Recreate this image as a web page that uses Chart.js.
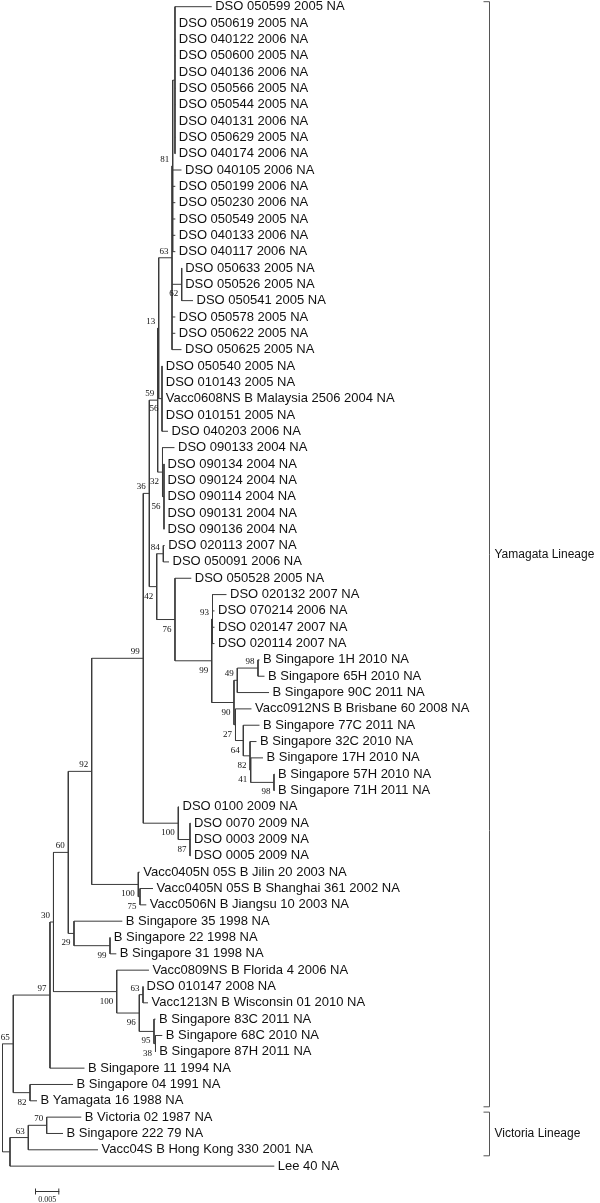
<!DOCTYPE html>
<html>
<head>
<meta charset="utf-8">
<script src="https://cdn.jsdelivr.net/npm/chart.js@4.4.1/dist/chart.umd.min.js"></script>
<style>
  html, body { margin: 0; padding: 0; background: #fff; }
  canvas { display: block; }
</style>
</head>
<body>
<canvas id="tree" width="600" height="1203"></canvas>
<script>
// leaves, top to bottom
const leafNames = [
  "DSO 050599 2005 NA", "DSO 050619 2005 NA", "DSO 040122 2006 NA", "DSO 050600 2005 NA",
  "DSO 040136 2006 NA", "DSO 050566 2005 NA", "DSO 050544 2005 NA", "DSO 040131 2006 NA",
  "DSO 050629 2005 NA", "DSO 040174 2006 NA", "DSO 040105 2006 NA", "DSO 050199 2006 NA",
  "DSO 050230 2006 NA", "DSO 050549 2005 NA", "DSO 040133 2006 NA", "DSO 040117 2006 NA",
  "DSO 050633 2005 NA", "DSO 050526 2005 NA", "DSO 050541 2005 NA", "DSO 050578 2005 NA",
  "DSO 050622 2005 NA", "DSO 050625 2005 NA", "DSO 050540 2005 NA", "DSO 010143 2005 NA",
  "Vacc0608NS B Malaysia 2506 2004 NA", "DSO 010151 2005 NA", "DSO 040203 2006 NA",
  "DSO 090133 2004 NA", "DSO 090134 2004 NA", "DSO 090124 2004 NA", "DSO 090114 2004 NA",
  "DSO 090131 2004 NA", "DSO 090136 2004 NA", "DSO 020113 2007 NA", "DSO 050091 2006 NA",
  "DSO 050528 2005 NA", "DSO 020132 2007 NA", "DSO 070214 2006 NA", "DSO 020147 2007 NA",
  "DSO 020114 2007 NA", "B Singapore 1H 2010 NA", "B Singapore 65H 2010 NA",
  "B Singapore 90C 2011 NA", "Vacc0912NS B Brisbane 60 2008 NA", "B Singapore 77C 2011 NA",
  "B Singapore 32C 2010 NA", "B Singapore 17H 2010 NA", "B Singapore 57H 2010 NA",
  "B Singapore 71H 2011 NA", "DSO 0100 2009 NA", "DSO 0070 2009 NA", "DSO 0003 2009 NA",
  "DSO 0005 2009 NA", "Vacc0405N 05S B Jilin 20 2003 NA", "Vacc0405N 05S B Shanghai 361 2002 NA",
  "Vacc0506N B Jiangsu 10 2003 NA", "B Singapore 35 1998 NA", "B Singapore 22 1998 NA",
  "B Singapore 31 1998 NA", "Vacc0809NS B Florida 4 2006 NA", "DSO 010147 2008 NA",
  "Vacc1213N B Wisconsin 01 2010 NA", "B Singapore 83C 2011 NA", "B Singapore 68C 2010 NA",
  "B Singapore 87H 2011 NA", "B Singapore 11 1994 NA", "B Singapore 04 1991 NA",
  "B Yamagata 16 1988 NA", "B Victoria 02 1987 NA", "B Singapore 222 79 NA",
  "Vacc04S B Hong Kong 330 2001 NA", "Lee 40 NA"
];
const leafParent = [
  "Q", "Q", "Q", "Q", "Q", "Q", "Q", "Q", "Q", "Q",
  "N81", "N81", "N81", "N81", "N81", "N81",
  "N62", "N62", "N62", "N63", "N63", "N63",
  "N56a", "N56a", "N56a", "N56a", "N56a",
  "N32", "N56b", "N56b", "N56b", "N56b", "N56b",
  "N84", "N84", "N76", "S93", "S93", "S93", "S93",
  "S98", "S98", "S49", "S27", "S64", "S82", "S41", "S98b", "S98b",
  "D100", "D87", "D87", "D87", "J100", "J75", "J75",
  "N29", "N99c", "N99c", "F100", "F63", "F63", "F95", "F38", "F38",
  "N97", "N82", "N82", "V70", "V70", "V63", "X"
];
// distance from root (substitutions per site)
const leafDepth = [
  0.04305, 0.03556, 0.03556, 0.03556, 0.03556, 0.03556, 0.03556, 0.03556, 0.03556, 0.03556,
  0.03683, 0.03556, 0.03556, 0.03556, 0.03556, 0.03556,
  0.03687, 0.03687, 0.03920, 0.03556, 0.03556, 0.03683,
  0.03288, 0.03288, 0.03288, 0.03288, 0.03405,
  0.03539, 0.03323, 0.03323, 0.03323, 0.03323, 0.03323,
  0.03337, 0.03426, 0.03885, 0.04609, 0.04362, 0.04362, 0.04362,
  0.05288, 0.05391, 0.05484, 0.05123, 0.05288, 0.05226, 0.05360, 0.05597, 0.05597,
  0.03632, 0.03868, 0.03868, 0.03868, 0.02823, 0.03097, 0.02959,
  0.02465, 0.02218, 0.02342, 0.03014, 0.02891, 0.02994, 0.03148, 0.03288, 0.03152,
  0.01687, 0.01451, 0.00710, 0.01621, 0.01245, 0.01965, 0.05593
];

// internal nodes
const nodeIds = [
  "R", "X", "V63", "V70", "N65", "N82", "N97", "N30", "N60", "N29", "N99c",
  "F100", "F96", "F63", "F95", "F38", "N92", "J100", "J75", "B99", "D100", "D87",
  "N36", "N59", "N13", "N63", "N81", "Q", "N62", "N56a", "N32", "N56b",
  "N42", "N84", "N76", "S99", "S93", "S90", "S49", "S98", "S27", "S64", "S82", "S41", "S98b"
];
const nodeParent = [
  null, "R", "X", "V63", "R", "N65", "N65", "N97", "N30", "N60", "N29",
  "N30", "F100", "F96", "F96", "F95", "N60", "N92", "J100", "N92", "B99", "D100",
  "B99", "N36", "N59", "N13", "N63", "N81", "N63", "N13", "N59", "N32",
  "N36", "N42", "N42", "N76", "S99", "S99", "S90", "S49", "S90", "S27", "S64", "S82", "S41"
];
const nodeDepth = [
  0, 0.00154, 0.00531, 0.00909, 0.00222, 0.00566, 0.00977, 0.01049, 0.01354, 0.01471, 0.02212,
  0.02350, 0.02815, 0.02891, 0.03117, 0.03148, 0.01835, 0.02794, 0.02829, 0.02897, 0.03617, 0.03858,
  0.03021, 0.03193, 0.03214, 0.03488, 0.03502, 0.03549, 0.03687, 0.03282, 0.03292, 0.03323,
  0.03173, 0.03309, 0.03549, 0.04305, 0.04321, 0.04763, 0.04831, 0.05257, 0.04794, 0.04955, 0.05093, 0.05107, 0.05586
];
const nodeSupport = [
  null, null, 63, 70, 65, 82, 97, 30, 60, 29, 99,
  100, 96, 63, 95, 38, 92, 100, 75, 99, 100, 87,
  36, 59, 13, 63, 81, null, 62, 56, 32, 56,
  42, 84, 76, 99, 93, 90, 49, 98, 27, 64, 82, 41, 98
];

const lineageNames = ["Yamagata Lineage", "Victoria Lineage"];
const lineageFirst = [0, 68];
const lineageLast = [67, 70];
const scaleBarValue = 0.005;

// build tree layout (y = leaf row, internal node = middle of first/last child)
const kids = {};
nodeIds.forEach((id) => (kids[id] = []));
leafNames.forEach((n, i) => kids[leafParent[i]].push({ leaf: i }));
nodeIds.forEach((id, i) => {
  if (nodeParent[i]) kids[nodeParent[i]].push({ node: id });
});
const depthOf = {};
nodeIds.forEach((id, i) => (depthOf[id] = nodeDepth[i]));
const nodeY = {};
const yOf = (c) => (c.leaf !== undefined ? c.leaf : layout(c.node));
function layout(id) {
  if (nodeY[id] !== undefined) return nodeY[id].y;
  const ys = kids[id].map(yOf);
  const lo = Math.min(...ys), hi = Math.max(...ys);
  nodeY[id] = { y: (lo + hi) / 2, lo, hi };
  return nodeY[id].y;
}
layout("R");

const segments = [];
const addSeg = (x1, y1, x2, y2) => {
  segments.push({ x: x1, y: y1 }, { x: x2, y: y2 }, { x: x2, y: null });
};
nodeIds.forEach((id, i) => {
  const n = nodeY[id];
  addSeg(nodeDepth[i], n.lo, nodeDepth[i], n.hi);
  if (nodeParent[i]) addSeg(depthOf[nodeParent[i]], n.y, nodeDepth[i], n.y);
});
leafNames.forEach((name, i) => {
  addSeg(depthOf[leafParent[i]], i, leafDepth[i], i);
});

const pxPerUnit = 24.3 / scaleBarValue;
const rowPx = 16.33;
const xMin = -2.5 / pxPerUnit;
const yMin = -6.7 / rowPx;

const labelsPlugin = {
  id: "treeLabels",
  afterDraw(chart) {
    const { ctx, scales: { x, y } } = chart;
    ctx.save();
    // leaf names
    ctx.fillStyle = "#111";
    ctx.font = "13px 'Liberation Sans', Arial, sans-serif";
    ctx.textAlign = "left";
    ctx.textBaseline = "middle";
    leafNames.forEach((name, i) => {
      ctx.fillText(name, x.getPixelForValue(leafDepth[i]) + 3.5, y.getPixelForValue(i));
    });
    // bootstrap values
    ctx.font = "9px 'Liberation Serif', 'Times New Roman', serif";
    ctx.textAlign = "right";
    ctx.textBaseline = "alphabetic";
    nodeIds.forEach((id, i) => {
      if (nodeSupport[i] == null) return;
      const py = nodeY[nodeParent[i]].y;
      const above = nodeY[id].y < py;
      const px = x.getPixelForValue(nodeDepth[i]) - 3.5;
      const yy = y.getPixelForValue(nodeY[id].y) + (above ? -4 : 12);
      ctx.fillText(String(nodeSupport[i]), px, yy);
    });
    // lineage brackets
    ctx.strokeStyle = "#555";
    ctx.lineWidth = 1;
    ctx.fillStyle = "#111";
    ctx.font = "12px 'Liberation Sans', Arial, sans-serif";
    ctx.textAlign = "left";
    ctx.textBaseline = "middle";
    const bx = 489.5;
    lineageNames.forEach((name, k) => {
      const top = y.getPixelForValue(lineageFirst[k]) - 5;
      const bot = y.getPixelForValue(lineageLast[k]) + 6;
      ctx.beginPath();
      ctx.moveTo(bx - 6, top);
      ctx.lineTo(bx, top);
      ctx.lineTo(bx, bot);
      ctx.lineTo(bx - 6, bot);
      ctx.stroke();
      ctx.fillText(name, bx + 5, (top + bot) / 2);
    });
    // scale bar
    const sx0 = 35;
    const sx1 = sx0 + (x.getPixelForValue(scaleBarValue) - x.getPixelForValue(0));
    const sy = 1191.5;
    ctx.strokeStyle = "#333";
    ctx.beginPath();
    ctx.moveTo(sx0, sy);
    ctx.lineTo(sx1, sy);
    ctx.moveTo(sx0 + 0.5, sy - 3);
    ctx.lineTo(sx0 + 0.5, sy + 3);
    ctx.moveTo(sx1 - 0.5, sy - 3);
    ctx.lineTo(sx1 - 0.5, sy + 3);
    ctx.stroke();
    ctx.font = "8px 'Liberation Serif', 'Times New Roman', serif";
    ctx.textAlign = "center";
    ctx.textBaseline = "top";
    ctx.fillStyle = "#222";
    ctx.fillText(String(scaleBarValue), (sx0 + sx1) / 2, sy + 4);
    ctx.restore();
  },
};

const treeChart = new Chart(document.getElementById("tree").getContext("2d"), {
  type: "line",
  data: {
    datasets: [
      {
        data: segments,
        borderColor: "#3a3a3a",
        borderWidth: 1,
        pointRadius: 0,
        tension: 0,
        spanGaps: false,
      },
    ],
  },
  options: {
    responsive: false,
    devicePixelRatio: 1,
    animation: false,
    layout: { padding: 0 },
    scales: {
      x: { type: "linear", display: false, min: xMin, max: xMin + 600 / pxPerUnit },
      y: { type: "linear", display: false, reverse: true, min: yMin, max: yMin + 1203 / rowPx },
    },
    plugins: { legend: { display: false }, tooltip: { enabled: false } },
  },
  plugins: [labelsPlugin],
});
</script>
</body>
</html>
